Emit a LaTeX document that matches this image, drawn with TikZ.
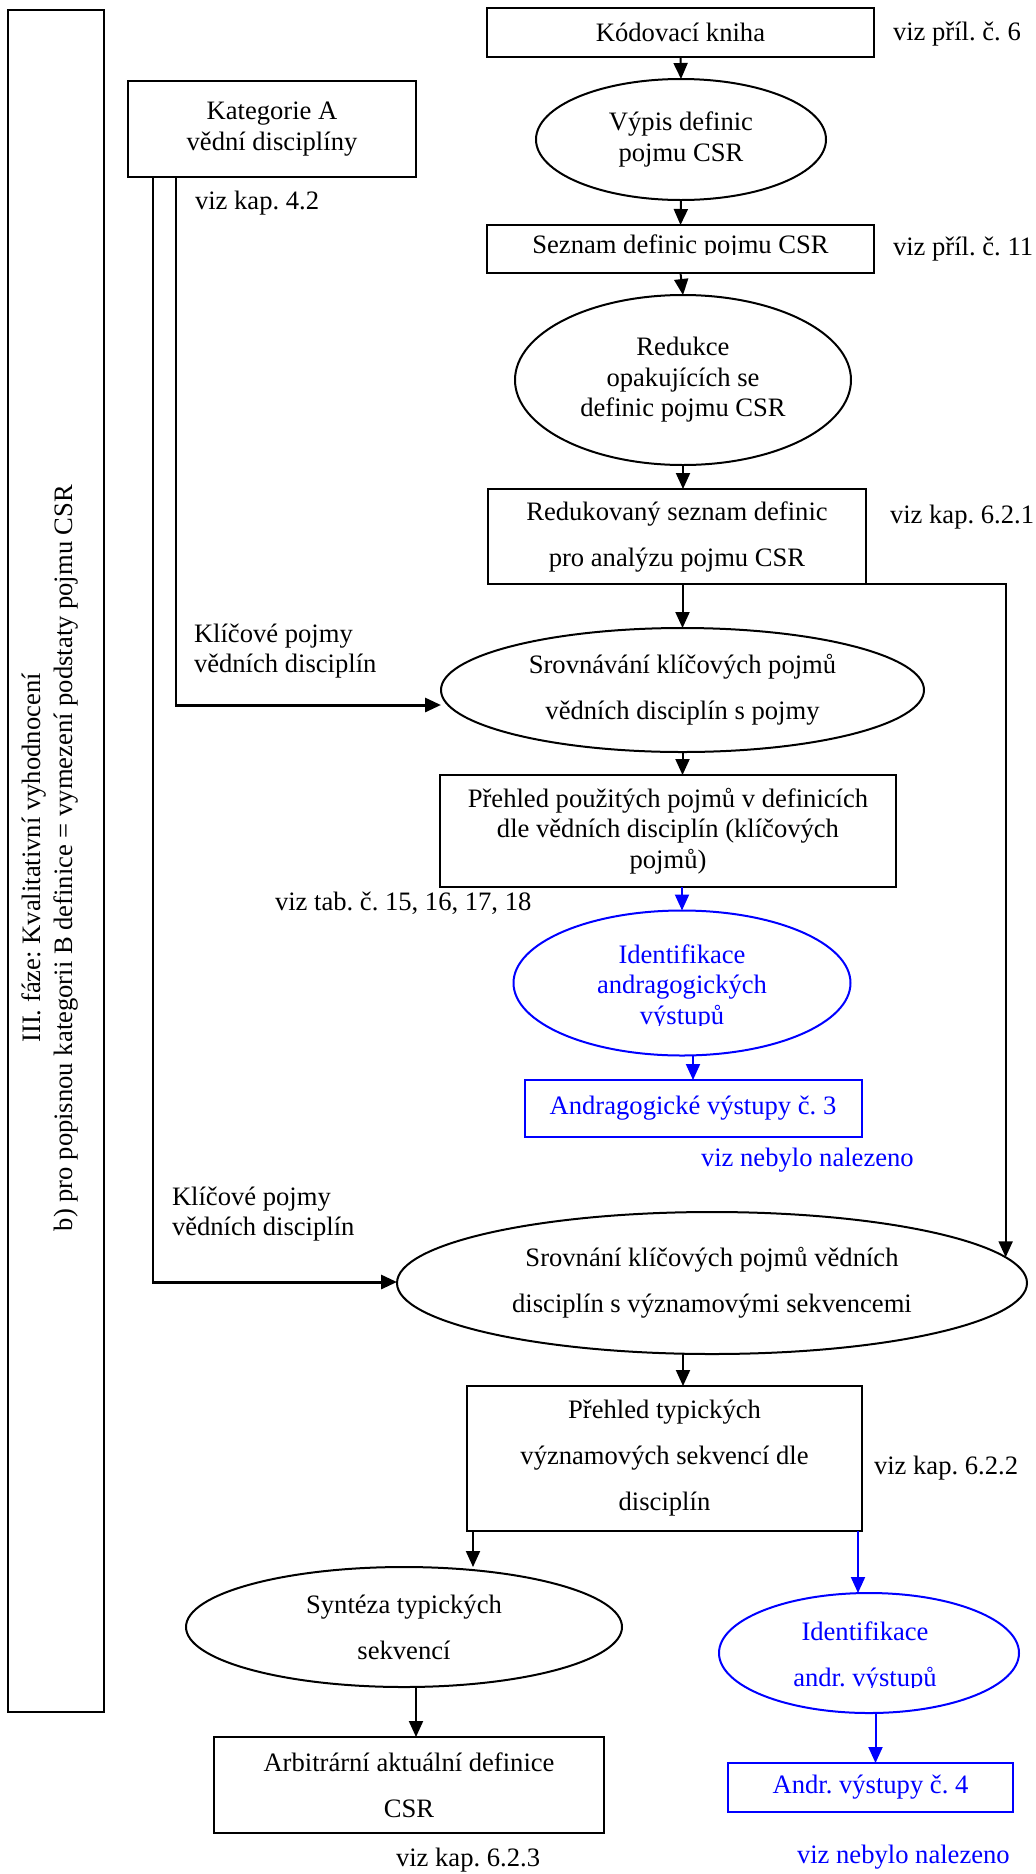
\documentclass[tikz,border=0pt]{standalone}
\usepackage{fontspec}
\setmainfont{Liberation Serif}
\usetikzlibrary{arrows.meta,shapes.geometric}

\begin{document}
\frenchspacing
\begin{tikzpicture}[x=0.5pt,y=-0.5pt,
  every node/.style={inner sep=0pt, outer sep=0pt},
  txt/.style={font=\fontsize{13.3pt}{15.25pt}\selectfont, align=center},
  txtwide/.style={font=\fontsize{13.3pt}{23pt}\selectfont, align=center},
  box/.style={draw, line width=1pt, rectangle},
  ell/.style={draw, line width=1pt, ellipse},
  arr/.style={line width=1pt, -{Triangle[length=8pt,width=7pt]}},
  heavy/.style={line width=1.5pt, -{Triangle[length=8pt,width=7pt]}},
  note/.style={font=\fontsize{13.3pt}{15.25pt}\selectfont, anchor=west, align=left}]

\useasboundingbox (0,0) rectangle (1036,1874);

% phase frame on the left
\node[box, minimum width=48pt, minimum height=851pt] (frame) at (56,861) {};
\node[align=center, rotate=90, font=\fontsize{13.3pt}{16pt}\selectfont] (phase) at (50,858)
  {III. fáze: Kvalitativní vyhodnocení\\b) pro popisnou kategorii B definice = vymezení podstaty pojmu CSR};

% main column
\node[box, txt, minimum width=193.5pt, minimum height=24.5pt] (kod) at (680.5,32.5) {Kódovací kniha};
\node[note] (kodref) at (893,34) {viz příl. č. 6};

\node[box, txt, minimum width=144pt, minimum height=48pt] (kat) at (272,129) {Kategorie A\\vědní disciplíny};
\node[note] (katref) at (195,203) {viz kap. 4.2};

\node[ell, txt, minimum width=145pt, minimum height=60.5pt] (vyp) at (681,139.5) {Výpis definic\\pojmu CSR};

\node[box, minimum width=193.5pt, minimum height=24pt] (sez) at (680.5,249) {};
\begin{scope}
  \clip (488,226) rectangle (873,254.5);
  \node[txt, anchor=base] (seztxt) at (680.5,253.5) {Seznam definic pojmu CSR};
\end{scope}
\node[note] (sezref) at (893,249) {viz příl. č. 11};

\node[ell, txt, minimum width=168pt, minimum height=85pt] (redc) at (683,380) {Redukce\\opakujících se\\definic pojmu CSR};

\node[box, txtwide, minimum width=189pt, minimum height=47.5pt] (red) at (677,536.5) {Redukovaný seznam definic\\pro analýzu pojmu CSR};
\node[note] (redref) at (890,517) {viz kap. 6.2.1};

\node[ell, txtwide, minimum width=241.5pt, minimum height=62pt] (srov1) at (682.5,690) {Srovnávání klíčových pojmů\\vědních disciplín s pojmy};
\node[note] (key1) at (194,651) {Klíčové pojmy\\vědních disciplín};

\node[box, txt, minimum width=228pt, minimum height=56pt] (pre) at (668,831) {Přehled použitých pojmů v definicích\\dle vědních disciplín (klíčových\\pojmů)};
\node[note] (preref) at (275,903) {viz tab. č. 15, 16, 17, 18};

\node[ell, draw=blue, minimum width=168.5pt, minimum height=72.5pt] (id1) at (682,983) {};
\begin{scope}
  \clip (512,912) rectangle (852,1025.5);
  \node[txt, text=blue, text depth=0pt, anchor=south] (id1txt) at (682,1024) {Identifikace\\andragogických\\výstupů};
\end{scope}

\node[box, draw=blue, txt, text=blue, minimum width=168.5pt, minimum height=28.5pt] (and1) at (693,1108.5) {Andragogické výstupy č. 3};
\node[note, text=blue] (and1ref) at (701,1160) {viz nebylo nalezeno};

\node[ell, txtwide, minimum width=315pt, minimum height=71pt] (srov2) at (712,1283) {Srovnání klíčových pojmů vědních\\disciplín s významovými sekvencemi};
\node[note] (key2) at (172,1214) {Klíčové pojmy\\vědních disciplín};

\node[box, txtwide, minimum width=197.5pt, minimum height=72.5pt] (typ) at (664.5,1458.5) {Přehled typických\\významových sekvencí dle\\disciplín};
\node[note] (typref) at (874,1468) {viz kap. 6.2.2};

\node[ell, txtwide, minimum width=218pt, minimum height=60pt] (syn) at (404,1627) {Syntéza typických\\sekvencí};

\node[ell, draw=blue, minimum width=150pt, minimum height=60pt] (id2) at (869,1653) {};
\begin{scope}
  \clip (720,1595) rectangle (1018,1687.5);
  \node[txtwide, text=blue, text depth=0pt, anchor=south] (id2txt) at (865,1686) {Identifikace\\andr. výstupů};
\end{scope}

\node[box, txtwide, minimum width=195pt, minimum height=48pt] (arb) at (409,1785) {Arbitrární aktuální definice\\CSR};
\node[note] (arbref) at (396,1860) {viz kap. 6.2.3};

\node[box, draw=blue, txt, text=blue, minimum width=142.5pt, minimum height=24.5pt] (and2) at (870.5,1787.5) {Andr. výstupy č. 4};
\node[note, text=blue] (and2ref) at (797,1857) {viz nebylo nalezeno};

% connectors of the main column
\draw[arr] (kod.south) -- (vyp.north);
\draw[arr] (vyp.south) -- (sez.north);
\draw[arr] (sez.south) -- (redc.north);
\draw[arr] (redc.south) -- (redc.south |- red.north);
\draw[arr] (srov1.north |- red.south) -- (srov1.north);
\draw[arr] (srov1.south) -- (srov1.south |- pre.north);
\draw[arr, blue] (id1.north |- pre.south) -- (id1.north);
\draw[arr, blue] (and1.north |- id1.south) -- (and1.north);
\draw[arr] ([xshift=-14.5pt]srov2.south) -- ([xshift=-14.5pt]srov2.south |- typ.north);
\draw[arr] ([xshift=3pt]typ.south west) -- ([xshift=3pt]typ.south west |- syn.north);
\draw[arr, blue] ([xshift=-2pt]typ.south east) -- ([xshift=-2pt]typ.south east |- id2.north);
\draw[arr] ([xshift=3.5pt]arb.north |- syn.south) -- ([xshift=3.5pt]arb.north);
\draw[arr, blue] ([xshift=2.5pt]and2.north |- id2.south) -- ([xshift=2.5pt]and2.north);

% bypass from the reduced list to the second comparison
\draw[arr] (red.south east) -| (srov2.5);

% key concepts fed from category A
\coordinate (ka) at (176,705);
\coordinate (kb) at (153,1282);
\draw[line width=1pt] (kat.south -| ka) -- ([yshift=-0.75pt]ka);
\draw[heavy] ([xshift=-0.5pt]ka) -- (srov1.west |- ka);
\draw[line width=1pt] (kat.south -| kb) -- ([yshift=-0.75pt]kb);
\draw[heavy] ([xshift=-0.5pt]kb) -- (srov2.west |- kb);

\end{tikzpicture}
\end{document}
